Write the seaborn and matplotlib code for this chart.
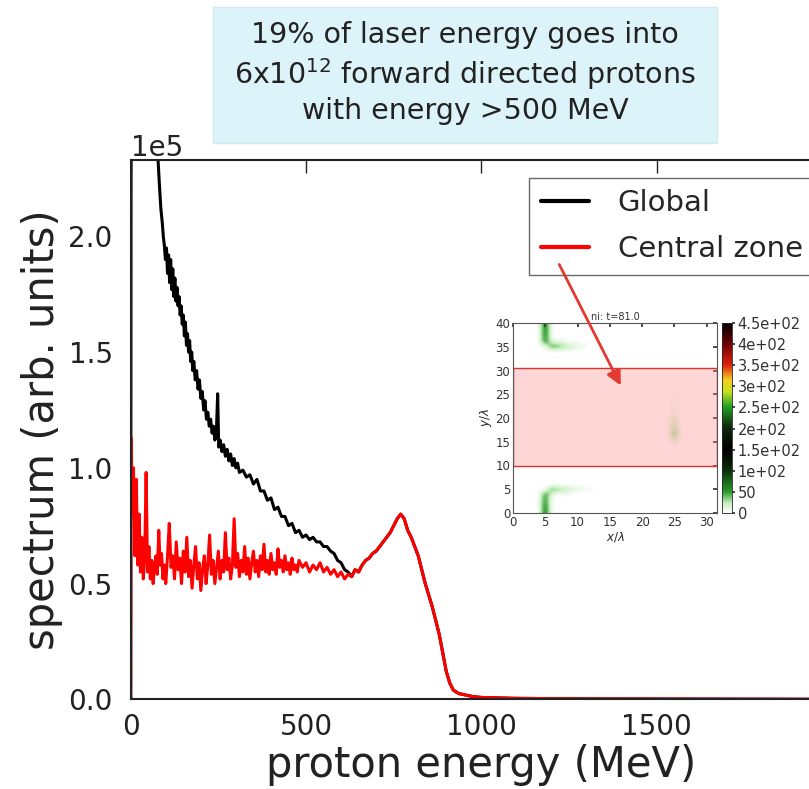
import numpy as np
import pandas as pd
import seaborn as sns
import matplotlib
matplotlib.use("Agg")
import matplotlib.pyplot as plt
from matplotlib.colors import LinearSegmentedColormap
from matplotlib.patches import Rectangle, FancyArrowPatch

# ---------------- data ----------------
central_energy = [0, 1, 5, 8, 12, 16, 20, 24, 28, 32, 36, 40, 44, 48, 52, 56, 60, 64, 68, 72, 76,
                  80, 84, 88, 92, 96, 100, 105, 110, 115, 120, 125, 130, 135, 140, 145, 150, 155,
                  160, 165, 170, 175, 180, 185, 190, 195, 200, 205, 210, 215, 220, 225, 230, 235,
                  240, 245, 250, 255, 260, 265, 270, 275, 280, 285, 290, 295, 300, 305, 310, 315,
                  320, 325, 330, 335, 340, 345, 350, 355, 360, 365, 370, 375, 380, 385, 390, 395,
                  400, 405, 410, 415, 420, 425, 430, 435, 440, 445, 450, 455, 460, 465, 470, 475,
                  480, 490, 500, 510, 520, 530, 540, 550, 560, 570, 580, 590, 600, 610, 620, 630,
                  640, 650, 660, 670, 680, 690, 700, 710, 720, 730, 740, 750, 760, 770, 780, 790,
                  800, 810, 820, 830, 840, 850, 860, 870, 880, 890, 900, 910, 920, 935, 950, 975,
                  1000, 1100, 1300, 1600, 2000]
central_value = [0.0, 1.13, 0.80, 1.00, 0.62, 0.95, 0.58, 0.80, 0.55, 0.70, 0.52, 0.62, 0.98, 0.55,
                 0.66, 0.52, 0.60, 0.50, 0.57, 0.62, 0.54, 0.73, 0.58, 0.63, 0.52, 0.58, 0.50, 0.62,
                 0.76, 0.57, 0.62, 0.52, 0.68, 0.56, 0.61, 0.50, 0.64, 0.55, 0.70, 0.53, 0.60, 0.48,
                 0.58, 0.66, 0.52, 0.59, 0.47, 0.56, 0.62, 0.50, 0.58, 0.71, 0.54, 0.60, 0.50, 0.57,
                 0.64, 0.52, 0.60, 0.55, 0.72, 0.56, 0.61, 0.52, 0.58, 0.78, 0.57, 0.63, 0.53, 0.60,
                 0.55, 0.66, 0.54, 0.61, 0.52, 0.59, 0.64, 0.55, 0.60, 0.53, 0.62, 0.56, 0.67, 0.55,
                 0.60, 0.54, 0.63, 0.56, 0.59, 0.54, 0.65, 0.57, 0.60, 0.55, 0.62, 0.56, 0.59, 0.54,
                 0.61, 0.56, 0.58, 0.55, 0.60, 0.57, 0.59, 0.55, 0.58, 0.56, 0.59, 0.55, 0.57, 0.54,
                 0.56, 0.53, 0.55, 0.52, 0.54, 0.53, 0.56, 0.55, 0.58, 0.60, 0.61, 0.63, 0.64, 0.66,
                 0.68, 0.70, 0.72, 0.75, 0.78, 0.80, 0.78, 0.73, 0.70, 0.66, 0.62, 0.56, 0.50, 0.45,
                 0.40, 0.34, 0.28, 0.20, 0.12, 0.07, 0.04, 0.025, 0.02, 0.012, 0.008, 0.004, 0.002,
                 0.001, 0.0]

global_energy = [0, 2, 40, 70, 78, 82, 86, 90, 93, 96, 99, 102, 105, 108, 111, 114, 117, 120, 123,
                 126, 129, 132, 135, 138, 141, 144, 147, 150, 153, 156, 159, 162, 165, 168, 171,
                 174, 177, 180, 184, 188, 192, 196, 200, 204, 208, 212, 216, 220, 224, 228, 232,
                 236, 240, 244, 248, 251, 255, 260, 265, 270, 275, 280, 285, 290, 295, 300, 305,
                 310, 320, 330, 340, 350, 360, 370, 380, 390, 400, 410, 420, 430, 440, 450, 460,
                 470, 480, 490, 500, 510, 520, 530, 540, 550, 560, 570, 580, 590, 600, 610, 620,
                 630, 640, 650, 660, 670, 680, 690, 700, 710, 720, 730, 740, 750, 760, 770, 780,
                 790, 800, 810, 820, 830, 840, 850, 860, 870, 880, 890, 900, 910, 920, 935, 950,
                 975, 1000, 1100, 1300, 1600, 2000]
global_value = [0.0, 4.5, 3.2, 2.5, 2.33, 2.22, 2.12, 2.06, 2.00, 1.96, 1.90, 1.95, 1.84, 1.92,
                1.80, 1.90, 1.77, 1.86, 1.74, 1.82, 1.72, 1.78, 1.70, 1.74, 1.66, 1.70, 1.62,
                1.66, 1.57, 1.63, 1.53, 1.58, 1.50, 1.55, 1.46, 1.50, 1.42, 1.46, 1.38, 1.42,
                1.34, 1.38, 1.30, 1.33, 1.25, 1.29, 1.21, 1.24, 1.18, 1.21, 1.15, 1.18, 1.12,
                1.14, 1.32, 1.09, 1.12, 1.07, 1.10, 1.05, 1.08, 1.03, 1.06, 1.01, 1.04, 1.00,
                1.02, 0.98, 0.99, 0.96, 0.97, 0.93, 0.95, 0.90, 0.90, 0.86, 0.87, 0.82, 0.83,
                0.79, 0.79, 0.75, 0.76, 0.72, 0.73, 0.70, 0.71, 0.69, 0.70, 0.68, 0.68, 0.66,
                0.66, 0.64, 0.63, 0.60, 0.59, 0.56, 0.55, 0.53, 0.56, 0.55, 0.58, 0.60, 0.61,
                0.63, 0.64, 0.66, 0.68, 0.70, 0.72, 0.75, 0.78, 0.80, 0.78, 0.73, 0.70, 0.66,
                0.62, 0.56, 0.50, 0.45, 0.40, 0.34, 0.28, 0.20, 0.12, 0.07, 0.04, 0.025, 0.02,
                0.012, 0.008, 0.004, 0.002, 0.001, 0.0]

series_names = ["Global", "Central zone"]
series_colors = ["black", "red"]
y_scale = 1e5
x_ticks = [0, 500, 1000, 1500]
y_ticks = [0, 0.5e5, 1.0e5, 1.5e5, 2.0e5]

# inset map: hot cells (x/lambda, y/lambda, value)
inset_cells = [(5, 40, 70), (5, 39, 70), (5, 38, 70), (5, 37, 65), (5, 36, 60), (6, 35, 50),
               (7, 35, 40), (8, 35, 30), (9, 35, 20), (10, 35, 12), (11, 35, 8), (6, 36, 15),
               (7, 36, 15), (8, 36, 10), (10, 36, 6), (12, 36, 5), (14, 36, 4),
               (5, 0, 70), (5, 1, 70), (5, 2, 65), (5, 3, 60), (5, 4, 55), (6, 5, 45), (7, 5, 35),
               (8, 5, 25), (9, 5, 18), (10, 5, 12), (11, 5, 8), (12, 5, 6), (14, 5, 4), (16, 5, 3),
               (6, 4, 15), (8, 4, 8),
               (25, 26, 10), (25, 24, 12), (25, 22, 15), (25, 20, 20), (25, 19, 25), (25, 18, 30),
               (25, 17, 45), (25, 16, 35), (25, 15, 15)]
cbar_ticks = [0, 50, 100, 150, 200, 250, 300, 350, 400, 450]
cbar_labels = ["0", "50", "1e+02", "1.5e+02", "2e+02", "2.5e+02", "3e+02", "3.5e+02", "4e+02", "4.5e+02"]
zone_bounds = (9.8, 30.5)

title_lines = "19% of laser energy goes into\n6x10$^{12}$ forward directed protons\nwith energy >500 MeV"

# ---------------- figure ----------------
sns.set_theme(style="white")
plt.rcParams["font.family"] = ["DejaVu Sans"]
plt.rcParams["mathtext.fontset"] = "dejavusans"

W, H = 809, 789
fig = plt.figure(figsize=(W / 100, H / 100), dpi=100)
fig.patch.set_facecolor("white")

def px(x0, y0, x1, y1):
    return [x0 / W, 1 - y1 / H, (x1 - x0) / W, (y1 - y0) / H]

ax = fig.add_axes(px(130.7, 160, 832, 699.3))

df = pd.concat([
    pd.DataFrame({"energy": global_energy, "value": np.array(global_value) * y_scale, "series": series_names[0]}),
    pd.DataFrame({"energy": central_energy, "value": np.array(central_value) * y_scale, "series": series_names[1]}),
])
sns.lineplot(data=df, x="energy", y="value", hue="series", hue_order=series_names,
             palette=dict(zip(series_names, series_colors)), estimator=None, sort=False,
             lw=2.2, ax=ax)

ax.set_xlim(0, 2000)
ax.set_ylim(0, 2.33e5)
ax.set_xticks(x_ticks)
ax.set_yticks(y_ticks)
ax.ticklabel_format(axis="y", style="sci", scilimits=(0, 0))
ax.yaxis.get_offset_text().set_fontsize(20)
ax.yaxis.get_offset_text().set_color("#222222")
ax.tick_params(direction="in", length=9, width=1, top=True, right=True,
               labelsize=20, colors="#222222")
ax.tick_params(axis="x", pad=10)
ax.tick_params(axis="y", pad=13)
for s in ax.spines.values():
    s.set_color("#222222")
    s.set_linewidth(1.5)
ax.set_xlabel("proton energy (MeV)", fontsize=30, color="#222222", labelpad=2)
ax.set_ylabel("spectrum (arb. units)", fontsize=30, color="#222222", labelpad=4)

leg = ax.legend(loc="upper right", fontsize=21, frameon=True, fancybox=False,
                edgecolor="#444444", handlelength=1.65, handletextpad=1.0,
                labelspacing=0.62, borderaxespad=0.6, title=None)
leg.get_frame().set_linewidth(1.0)
for line in leg.get_lines():
    line.set_linewidth(3)

# ---------------- inset ----------------
grid = np.zeros((41, 33))
for cx, cy, v in inset_cells:
    grid[cy, cx] = v
cmap = LinearSegmentedColormap.from_list("dens", [
    (0.0, "#ffffff"), (0.05, "#c8efc0"), (0.11, "#2a9a2a"), (0.22, "#0a300a"),
    (0.33, "#000000"), (0.45, "#0c280c"), (0.56, "#22a022"), (0.64, "#c8e020"),
    (0.70, "#f0d020"), (0.78, "#e02010"), (0.89, "#700000"), (1.0, "#000000")])

axi = fig.add_axes(px(513, 323, 717, 513))
im = axi.imshow(grid, origin="lower", extent=[-0.5, 32.5, -0.5, 40.5], cmap=cmap,
                vmin=0, vmax=450, interpolation="bicubic", aspect="auto")
axi.axhspan(zone_bounds[0], zone_bounds[1], facecolor=(1.0, 0.55, 0.55, 0.35),
            edgecolor="#e03030", lw=1)
axi.set_xlim(0, 31.6)
axi.set_ylim(0, 40)
axi.set_xticks([0, 5, 10, 15, 20, 25, 30])
axi.set_yticks([0, 5, 10, 15, 20, 25, 30, 35, 40])
axi.tick_params(direction="in", length=3, labelsize=8.5, colors="#333333", pad=2, top=True, right=True)
for s in axi.spines.values():
    s.set_color("#555555")
    s.set_linewidth(0.8)
axi.set_xlabel("$x/\\lambda$", fontsize=8.5, labelpad=1)
axi.set_ylabel("$y/\\lambda$", fontsize=8.5, labelpad=1)
axi.set_title("ni: t=81.0", fontsize=7, pad=2, color="#333333")

cax = fig.add_axes(px(722, 323, 732, 513))
cb = fig.colorbar(im, cax=cax, ticks=cbar_ticks)
cb.ax.set_yticklabels(cbar_labels)
cb.ax.tick_params(labelsize=10.5, length=2, colors="#333333", pad=2)
cb.outline.set_linewidth(0.6)

# ---------------- arrow ----------------
arrow = FancyArrowPatch((558 / W, 1 - 262 / H), (622 / W, 1 - 388 / H),
                        transform=fig.transFigure, arrowstyle="-|>", mutation_scale=22,
                        color="#e23a30", lw=2)
fig.add_artist(arrow)

# ---------------- title box ----------------
box = Rectangle((213 / W, 1 - 143 / H), (717 - 213) / W, 136 / H, transform=fig.transFigure,
                facecolor="#dcf4f9", edgecolor="#cdeaf0", lw=1)
fig.add_artist(box)
fig.text(465 / W, 1 - 73 / H, title_lines, ha="center", va="center", fontsize=20.5,
         color="#222222", linespacing=1.25)

fig.savefig("out.png", dpi=100)
